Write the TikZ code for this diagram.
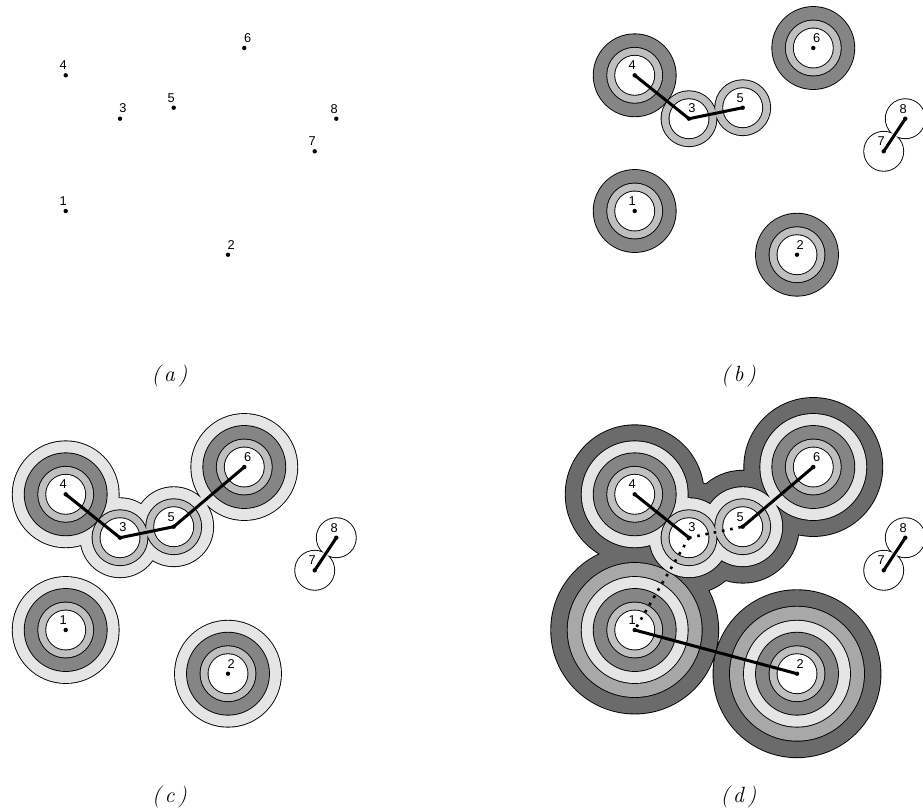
\documentclass[tikz,border=0pt]{standalone}
\usepackage{fontspec}
\newfontfamily\numfont{Liberation Sans}
\definecolor{ringsilver}{gray}{0.75}
\definecolor{ringgray}{gray}{0.52}
\definecolor{ringpale}{gray}{0.9}
\definecolor{ringmid}{gray}{0.66}
\definecolor{ringdark}{gray}{0.42}

% one layer of balls: outline of the union, then the fill over the inner edges
\newcommand{\ringlayer}[2]{%
  \draw[ringline, fill=#1] \foreach \c/\r in {#2} {(\c) circle (\r)};
  \fill[#1] \foreach \c/\r in {#2} {(\c) circle (\r)};
}

\begin{document}
\begin{tikzpicture}[
    x=0.5pt, y=0.5pt,
    ringline/.style={line width=0.9pt},
    numlabel/.style={font=\numfont\fontsize{6.4}{7.5}\selectfont, inner sep=0pt},
    caption/.style={font=\fontsize{11}{13}\selectfont, inner sep=0pt},
    link/.style={line width=1.5pt},
    weaklink/.style={line width=1.3pt, dash pattern=on 1.3pt off 2.9pt}
]
\useasboundingbox (0,0) rectangle (923,-810);

% sites, repeated in every panel
\foreach \p/\dx/\dy in {a/0/0, b/569/0, c/0/419, d/569/419}
  \foreach \n/\x/\y in {1/65.7/211, 2/228/254.7, 3/120/118.7, 4/65.7/75.3,
                        5/173.7/107.7, 6/244.3/48, 7/314.7/151.3, 8/336.3/118.7}
    \coordinate (\p\n) at ({\x+\dx},{-\y-\dy});

% (b)
\ringlayer{ringgray}{b1/41, b2/41, b4/41, b6/41}
\ringlayer{ringsilver}{b1/27.5, b2/27.5, b3/27.5, b4/27.5, b5/27.5, b6/27.5}
\ringlayer{white}{b1/19.5, b2/19.5, b3/19.5, b4/19.5, b5/19.5, b6/19.5, b7/19.5, b8/19.5}

% (c)
\ringlayer{ringpale}{c1/53, c2/53, c3/39.5, c4/53, c5/39.5, c6/53}
\ringlayer{ringgray}{c1/41, c2/41, c4/41, c6/41}
\ringlayer{ringsilver}{c1/27.5, c2/27.5, c3/27.5, c4/27.5, c5/27.5, c6/27.5}
\ringlayer{white}{c1/19.5, c2/19.5, c3/19.5, c4/19.5, c5/19.5, c6/19.5, c7/19.5, c8/19.5}

% (d)
\ringlayer{ringdark}{d1/83.5, d2/83.5, d3/56, d4/69, d5/56, d6/69}
\ringlayer{ringmid}{d1/67, d2/67}
\ringlayer{ringpale}{d1/53, d2/53, d3/39.5, d4/53, d5/39.5, d6/53}
\ringlayer{ringgray}{d1/41, d2/41, d4/41, d6/41}
\ringlayer{ringsilver}{d1/27.5, d2/27.5, d3/27.5, d4/27.5, d5/27.5, d6/27.5}
\ringlayer{white}{d1/19.5, d2/19.5, d3/19.5, d4/19.5, d5/19.5, d6/19.5, d7/19.5, d8/19.5}

\foreach \s/\t in {b4/b3, b3/b5, b7/b8, c4/c3, c3/c5, c5/c6, c7/c8,
                   d4/d3, d5/d6, d1/d2, d7/d8}
  \draw[link] (\s) -- (\t);
\foreach \s/\t in {d3/d5, d3/d1}
  \draw[weaklink] (\s) -- (\t);

\foreach \p in {a,b,c,d}
  \foreach \n in {1,...,8}
    \fill (\p\n) circle (2.2);

\foreach \p in {a,b,c,d}
  \foreach \n/\lx/\ly in {1/-2.4/9.8, 2/3.3/9.9, 3/3/10.2, 4/-2.4/10.1,
                          5/-2.4/9.5, 6/3.4/9.8, 7/-2.4/10.1, 8/-2/9.9}
    \node[numlabel] (\p-l\n) at ([shift={(\lx,\ly)}]\p\n) {\n};

\foreach \p/\dx/\dy in {a/0/0, b/569/0, c/0/421, d/569/421}
  \node[caption] (cap\p) at ({169.5+\dx},{-376-\dy}) {\textit{(\,\p\,)}};
\end{tikzpicture}
\end{document}
